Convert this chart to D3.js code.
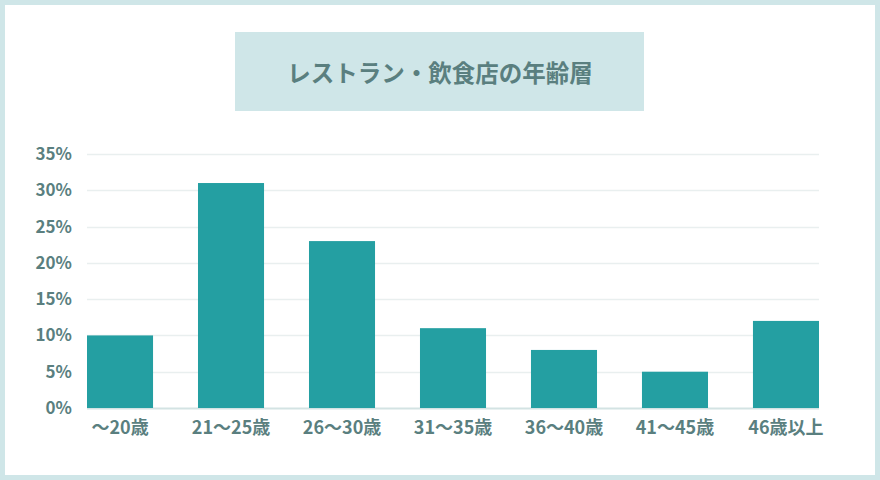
<!DOCTYPE html>
<html>
<head>
<meta charset="utf-8">
<script src="https://cdn.jsdelivr.net/npm/d3@7"></script>
<style>
  html, body { margin: 0; padding: 0; background: #fff; }
  #chart { width: 880px; height: 480px; }
  text { font-family: "Noto Sans CJK JP", "Noto Sans", sans-serif; }
</style>
</head>
<body>
<div id="chart"></div>
<script>
const TITLE = "レストラン・飲食店の年齢層";
const AGE_GROUPS = ["〜20歳", "21〜25歳", "26〜30歳", "31〜35歳", "36〜40歳", "41〜45歳", "46歳以上"];
const SHARES = [10, 31, 23, 11, 8, 5, 12];
const Y_TICKS = [0, 5, 10, 15, 20, 25, 30, 35];

const W = 880, H = 480;
const margin = { top: 154, right: 61, bottom: 72, left: 87 };
const width = W - margin.left - margin.right,
      height = H - margin.top - margin.bottom;

const TEXT_COLOR = "#5a7f7f";
const BAR_COLOR = "#249fa2";

const root = d3.select("#chart")
  .append("svg")
  .attr("width", W)
  .attr("height", H);

// frame
root.append("rect")
  .attr("x", 2.5).attr("y", 2.5)
  .attr("width", W - 5).attr("height", H - 5)
  .attr("fill", "#fff")
  .attr("stroke", "#cfe6e8")
  .attr("stroke-width", 5);

// title box
root.append("rect")
  .attr("x", 235).attr("y", 32)
  .attr("width", 409).attr("height", 79)
  .attr("fill", "#cfe6e8");

root.append("text")
  .attr("x", 440).attr("y", 72)
  .attr("text-anchor", "middle")
  .attr("dominant-baseline", "central")
  .attr("font-size", 23.5)
  .attr("font-weight", 700)
  .attr("fill", TEXT_COLOR)
  .text(TITLE);

const svg = root.append("g")
  .attr("transform", `translate(${margin.left}, ${margin.top})`);

/* -------------------- SCALES -------------------- */
const x = d3.scaleBand()
  .domain(AGE_GROUPS)
  .range([0, width])
  .paddingInner(0.405)
  .paddingOuter(0);

const y = d3.scaleLinear()
  .domain([0, 35])
  .range([height, 0]);

/* -------------------- GRID -------------------- */
svg.append("g")
  .selectAll("line")
  .data(Y_TICKS)
  .join("line")
  .attr("x1", 0).attr("x2", width)
  .attr("y1", d => Math.round(y(d)) + 0.5)
  .attr("y2", d => Math.round(y(d)) + 0.5)
  .attr("stroke", d => d === 0 ? "#d3e3e3" : "#e9efef")
  .attr("stroke-width", d => d === 0 ? 2 : 1.5);

/* -------------------- BARS -------------------- */
svg.selectAll(".bar")
  .data(AGE_GROUPS.map((g, i) => ({ group: g, value: SHARES[i] })))
  .join("rect")
  .attr("class", "bar")
  .attr("x", d => x(d.group))
  .attr("y", d => y(d.value))
  .attr("width", x.bandwidth())
  .attr("height", d => y(0) - y(d.value))
  .attr("fill", BAR_COLOR);

/* -------------------- AXES -------------------- */
const yAxis = svg.append("g")
  .call(d3.axisLeft(y).tickValues(Y_TICKS).tickSize(0).tickPadding(15).tickFormat(d => d + "%"));
yAxis.select(".domain").remove();
yAxis.selectAll("text")
  .attr("font-family", "\"Noto Sans CJK JP\", sans-serif")
  .attr("font-size", 17)
  .attr("font-weight", 700)
  .attr("fill", TEXT_COLOR);

const xAxis = svg.append("g")
  .attr("transform", `translate(0, ${height})`)
  .call(d3.axisBottom(x).tickSize(0).tickPadding(13));
xAxis.select(".domain").remove();
xAxis.selectAll("text")
  .attr("font-family", "\"Noto Sans CJK JP\", sans-serif")
  .attr("font-size", 18)
  .attr("font-weight", 700)
  .attr("fill", TEXT_COLOR);
</script>
</body>
</html>
